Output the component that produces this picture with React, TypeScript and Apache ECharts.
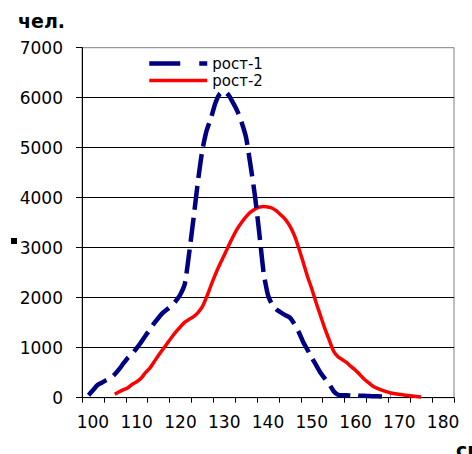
import React, { useEffect, useRef } from "react";
import * as echarts from "echarts";

// heights (cm) for series 1 and its counts
const heights1: number[] = [
  99, 100, 101, 102, 103, 104, 105, 106, 107, 108, 109, 110, 111, 112, 113, 114, 115, 116, 117, 118,
  119, 120, 121, 122, 123, 124, 125, 126, 127, 128, 129, 130, 131, 132, 133, 134, 135, 136, 137, 138,
  139, 140, 141, 142, 143, 144, 145, 146, 147, 148, 149, 150, 151, 152, 153, 154, 155, 156, 157, 158,
  159, 160, 161, 162, 163, 164, 165, 166, 167, 168,
];
const rost1: number[] = [
  50, 150, 250, 300, 350, 390, 470, 570, 690, 800, 880, 990, 1110, 1240, 1360, 1490, 1600, 1700, 1770, 1840,
  1940, 2070, 2280, 2900, 3600, 4330, 4950, 5350, 5600, 5900, 6080, 6130, 6050, 5900, 5730, 5500, 5200, 4650, 4050, 3300,
  2500, 2050, 1850, 1760, 1700, 1650, 1600, 1480, 1320, 1120, 960, 800, 650, 500, 380, 270, 130, 60, 50, 50,
  40, 50, 40, 40, 35, 30, 30, 25, 20, 15,
];

// heights (cm) for series 2 and its counts
const heights2: number[] = [
  105, 106, 107, 108, 109, 110, 111, 112, 113, 114, 115, 116, 117, 118, 119, 120, 121, 122, 123, 124,
  125, 126, 127, 128, 129, 130, 131, 132, 133, 134, 135, 136, 137, 138, 139, 140, 141, 142, 143, 144,
  145, 146, 147, 148, 149, 150, 151, 152, 153, 154, 155, 156, 157, 158, 159, 160, 161, 162, 163, 164,
  165, 166, 167, 168, 169, 170, 171, 172, 173, 174, 175,
];
const rost2: number[] = [
  70, 120, 160, 200, 270, 320, 390, 500, 590, 720, 850, 970, 1090, 1210, 1320, 1420, 1510, 1570, 1620, 1700,
  1820, 2020, 2250, 2470, 2670, 2850, 3040, 3220, 3380, 3510, 3620, 3710, 3770, 3810, 3825, 3815, 3790, 3730, 3650, 3560,
  3430, 3250, 3000, 2720, 2430, 2180, 1900, 1640, 1380, 1150, 930, 820, 760, 700, 620, 550, 460, 370, 300, 230,
  185, 150, 120, 95, 80, 70, 55, 45, 35, 25, 15,
];

const seriesNames: string[] = ["рост-1", "рост-2"];
const xTickLabels: number[] = [100, 110, 120, 130, 140, 150, 160, 170, 180];
const yMax = 7000;
const yStep = 1000;

const FONT = '"DejaVu Sans", sans-serif';

export default function App() {
  const ref = useRef<HTMLDivElement>(null);

  useEffect(() => {
    if (!ref.current) return;
    const chart = echarts.init(ref.current, undefined, { renderer: "svg" });

    const xMin = xTickLabels[0] - 2.5;
    const xMax = xTickLabels[xTickLabels.length - 1] + 2.5;

    const option: any = {
      animation: false,
      backgroundColor: "#fff",
      grid: {
        left: 82,
        right: 18,
        top: 47.7,
        bottom: 56.3,
        show: true,
        borderColor: "#808080",
        borderWidth: 1,
        backgroundColor: "transparent",
      },
      legend: {
        orient: "vertical",
        left: 147,
        top: 56,
        padding: 0,
        itemWidth: 58,
        itemHeight: 12,
        itemGap: 2,
        itemStyle: { opacity: 0 },
        textStyle: { fontFamily: FONT, fontSize: 15, color: "#000" },
        data: [
          { name: seriesNames[0], lineStyle: { type: [31, 19], width: 4.5, color: "#000080" } },
          { name: seriesNames[1], lineStyle: { width: 3.5, color: "#ff0000" } },
        ],
      },
      xAxis: [
        {
          type: "value",
          min: xMin,
          max: xMax,
          interval: 5,
          axisLine: { show: true, lineStyle: { color: "#000", width: 1 } },
          axisTick: { show: true, length: 5, lineStyle: { color: "#000" } },
          axisLabel: { show: false },
          splitLine: { show: false },
        },
        {
          type: "value",
          min: xMin,
          max: xMax,
          interval: 2.5,
          position: "bottom",
          axisLine: { show: false },
          axisTick: { show: false },
          splitLine: { show: false },
          axisLabel: {
            margin: 16,
            fontFamily: FONT,
            fontSize: 17,
            color: "#000",
            formatter: (v: number) => (xTickLabels.indexOf(Math.round(v * 10) / 10) >= 0 ? String(v) : ""),
          },
        },
      ],
      yAxis: {
        type: "value",
        min: 0,
        max: yMax,
        interval: yStep,
        axisLine: { show: true, lineStyle: { color: "#000", width: 1 } },
        axisTick: { show: true, length: 6, lineStyle: { color: "#000" } },
        axisLabel: {
          margin: 19,
          fontFamily: FONT,
          fontSize: 17,
          color: "#000",
          formatter: (v: number) => String(v),
        },
        splitLine: { show: true, showMaxLine: false, lineStyle: { color: "#000", width: 1 } },
      },
      graphic: [
        {
          type: "text",
          left: 18,
          top: 11,
          style: { text: "чел.", font: `bold 19px ${FONT}`, fill: "#000" },
        },
        {
          type: "text",
          left: 456,
          top: 440,
          style: { text: "см", font: `bold 19px ${FONT}`, fill: "#000" },
        },
        {
          type: "rect",
          shape: { x: 11, y: 238, width: 6, height: 6 },
          style: { fill: "#000" },
        },
      ],
      series: [
        {
          name: seriesNames[0],
          type: "line",
          xAxisIndex: 0,
          symbol: "none",
          smooth: 0.2,
          data: heights1.map((h, i) => [h, rost1[i]]),
          lineStyle: { color: "#000080", width: 4.5, type: [24, 8], cap: "butt" },
          itemStyle: { color: "#000080" },
          z: 3,
        },
        {
          name: seriesNames[1],
          type: "line",
          xAxisIndex: 0,
          symbol: "none",
          smooth: 0.3,
          data: heights2.map((h, i) => [h, rost2[i]]),
          lineStyle: { color: "#ff0000", width: 3.5 },
          itemStyle: { color: "#ff0000" },
          z: 2,
        },
      ],
    };

    chart.setOption(option);
    return () => chart.dispose();
  }, []);

  return (
    <div
      ref={ref}
      style={{ position: "absolute", left: 0, top: 0, width: 472, height: 454 }}
    />
  );
}
